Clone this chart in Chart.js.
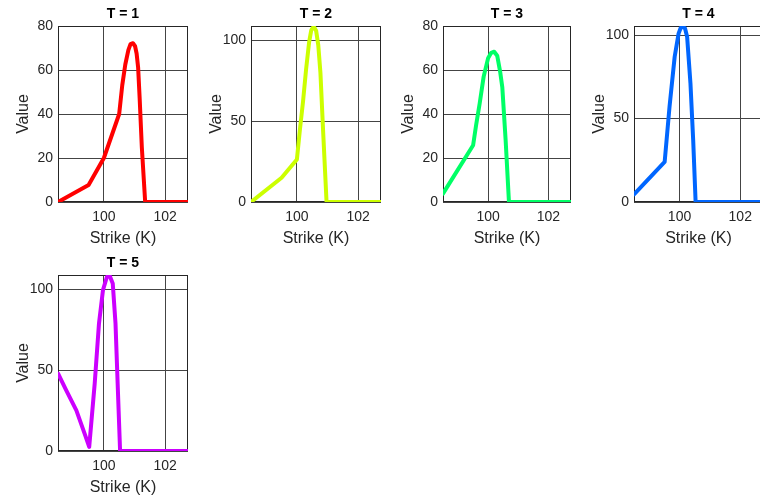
<!DOCTYPE html>
<html lang="en">
<head>
  <meta charset="UTF-8">
  <title>Value vs Strike</title>
  <script src="https://cdn.jsdelivr.net/npm/chart.js"></script>
  <style>
    body {
      margin: 0;
      background: #fff;
      width: 760px;
      height: 497px;
      overflow: hidden;
      position: relative;
    }
    canvas {
      position: absolute;
    }
  </style>
</head>
<body>
  <canvas id="c1"></canvas>
  <canvas id="c2"></canvas>
  <canvas id="c3"></canvas>
  <canvas id="c4"></canvas>
  <canvas id="c5"></canvas>

  <script>
    // values
    const titles = ["T = 1", "T = 2", "T = 3", "T = 4", "T = 5"];

    const strikes1 = [98.5, 99.5, 100, 100.5, 100.6, 100.7, 100.8, 100.87, 100.95, 101.02, 101.07, 101.12, 101.17, 101.24, 101.35, 102.75];
    const values1  = [0, 7.7, 20, 40, 53, 62.5, 69, 71.8, 72.2, 70.8, 67.5, 61, 47, 25, 0, 0];

    const strikes2 = [98.5, 99.5, 100, 100.1, 100.2, 100.3, 100.4, 100.47, 100.55, 100.63, 100.7, 100.77, 100.86, 100.97, 102.75];
    const values2  = [0, 15, 26.3, 45, 62, 82, 99, 106.5, 108.7, 106, 97, 80, 43, 0, 0];

    const strikes3 = [98.5, 99.5, 99.6, 99.72, 99.85, 100.0, 100.1, 100.2, 100.3, 100.4, 100.47, 100.58, 100.69, 102.75];
    const values3  = [3.8, 25.8, 35, 45, 57, 65.5, 67.8, 68.3, 66.5, 59, 52, 28, 0, 0];

    const strikes4 = [98.5, 99.51, 99.67, 99.84, 99.97, 100.04, 100.11, 100.18, 100.25, 100.36, 100.45, 100.53, 102.75];
    const values4  = [4.5, 24, 57, 87, 101, 104.3, 105, 104, 99, 71, 37, 0, 0];

    const strikes5 = [98.5, 98.77, 99.1, 99.37, 99.52, 99.7, 99.84, 99.97, 100.1, 100.18, 100.29, 100.38, 100.45, 100.53, 102.75];
    const values5  = [48, 37.6, 25.2, 10.8, 2.5, 41.8, 79, 99.6, 107.9, 109, 103.8, 79, 41.8, 0, 0];

    const xTicks = [100, 102];
    const yTicksA = [0, 20, 40, 60, 80];
    const yTicksB = [0, 50, 100];
    const yMax = [80, 109, 80, 105.4, 109];

    const colors = ["#ff0000", "#ccff00", "#00ff66", "#0066ff", "#cc00ff"];

    // where each plot box sits on the page
    const boxes = [
      { left: 58,  top: 26,  width: 130 },
      { left: 251, top: 26,  width: 130 },
      { left: 443, top: 26,  width: 128 },
      { left: 634, top: 26,  width: 129 },
      { left: 58,  top: 275, width: 130 }
    ];
    const plotHeight = 176;
    const yAxisWidth = 58;
    const titleHeight = 26;
    const xAxisHeight = 50;
    const rightPad = 12;

    const fontFamily = "'Liberation Sans', Arial, Helvetica, sans-serif";
    const textColor = "#262626";

    const series = [
      [strikes1, values1],
      [strikes2, values2],
      [strikes3, values3],
      [strikes4, values4],
      [strikes5, values5]
    ];

    // draw the full box around the plot area
    const boxPlugin = {
      id: "box",
      beforeDatasetsDraw(chart) {
        const a = chart.chartArea;
        const ctx = chart.ctx;
        ctx.save();
        ctx.strokeStyle = textColor;
        ctx.lineWidth = 1;
        ctx.strokeRect(Math.round(a.left) + 0.5, Math.round(a.top) + 0.5,
          Math.round(a.right - a.left) - 1, Math.round(a.bottom - a.top) - 1);
        ctx.restore();
      }
    };

    series.forEach(([ks, vs], i) => {
      const box = boxes[i];
      const canvas = document.getElementById("c" + (i + 1));
      canvas.width = yAxisWidth + box.width + rightPad;
      canvas.height = titleHeight + plotHeight + xAxisHeight;
      canvas.style.left = (box.left - yAxisWidth) + "px";
      canvas.style.top = (box.top - titleHeight) + "px";

      const yTicks = yMax[i] < 90 ? yTicksA : yTicksB;

      new Chart(canvas.getContext("2d"), {
        type: "line",
        data: {
          datasets: [{
            data: ks.map((k, j) => ({ x: k, y: vs[j] })),
            borderColor: colors[i],
            borderWidth: 4,
            borderJoinStyle: "round",
            borderCapStyle: "round",
            pointRadius: 0,
            tension: 0,
            fill: false
          }]
        },
        options: {
          responsive: false,
          animation: false,
          layout: { padding: { left: 0, right: rightPad, top: 0, bottom: 0 } },
          plugins: {
            legend: { display: false },
            tooltip: { enabled: false },
            title: {
              display: true,
              text: titles[i],
              fullSize: false,
              color: "#000",
              font: { family: fontFamily, size: 14, weight: "bold", lineHeight: 1.2 },
              padding: { top: 5.7, bottom: 3.5 }
            }
          },
          scales: {
            x: {
              type: "linear",
              min: 98.5,
              max: 102.75,
              afterBuildTicks: s => { s.ticks = xTicks.map(v => ({ value: v })); },
              afterFit: s => { s.height = xAxisHeight; },
              ticks: {
                color: textColor,
                padding: 7,
                maxRotation: 0,
                font: { family: fontFamily, size: 14 }
              },
              grid: { color: "#444444", lineWidth: 1, drawTicks: false },
              border: { display: false },
              title: {
                display: true,
                text: "Strike (K)",
                color: textColor,
                font: { family: fontFamily, size: 16, lineHeight: 1.2 },
                padding: { top: 0, bottom: 3.9 }
              }
            },
            y: {
              type: "linear",
              min: 0,
              max: yMax[i],
              afterBuildTicks: s => { s.ticks = yTicks.map(v => ({ value: v })); },
              afterFit: s => { s.width = yAxisWidth; },
              ticks: {
                color: textColor,
                padding: 5,
                font: { family: fontFamily, size: 14 }
              },
              grid: { color: "#444444", lineWidth: 1, drawTicks: false },
              border: { display: false },
              title: {
                display: true,
                text: "Value",
                color: textColor,
                font: { family: fontFamily, size: 16, lineHeight: 1.2 },
                padding: { top: 14.4, bottom: 0 }
              }
            }
          }
        },
        plugins: [boxPlugin]
      });
    });
  </script>
</body>
</html>
